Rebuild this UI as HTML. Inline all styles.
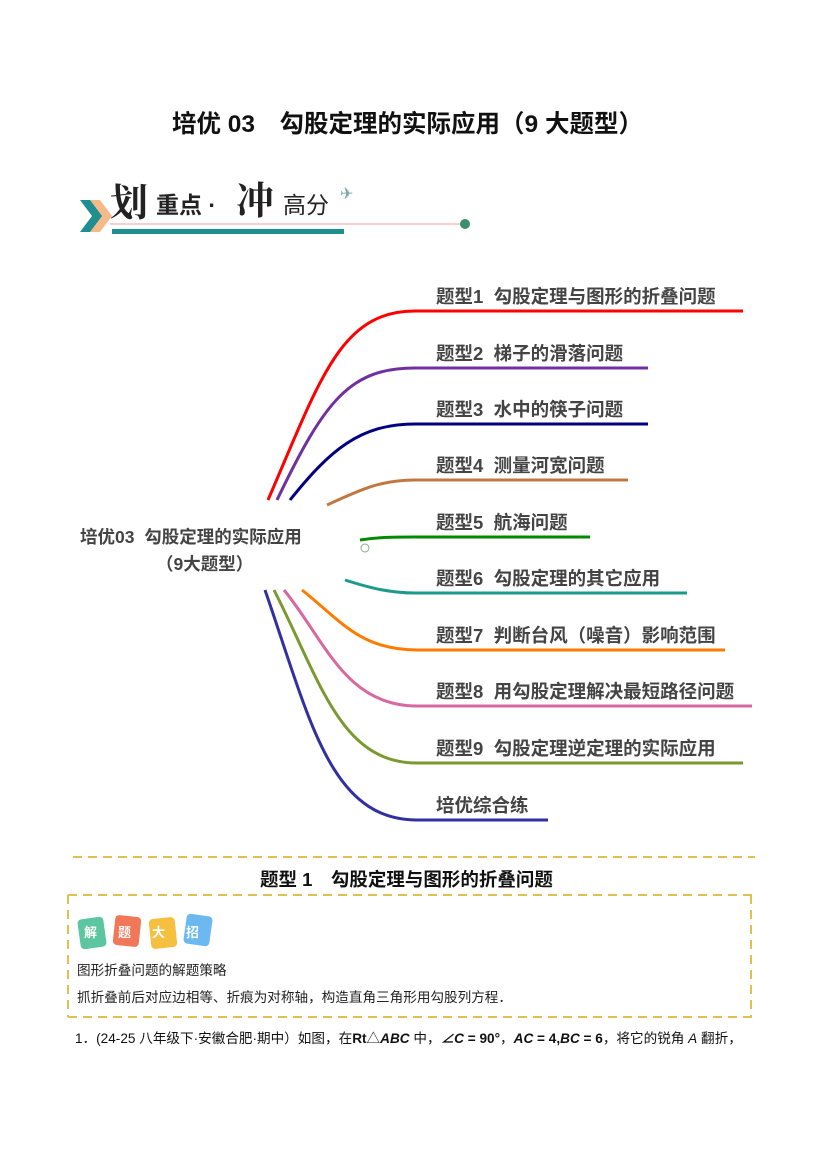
<!DOCTYPE html>
<html><head><meta charset="utf-8"><style>
body{margin:0;background:#fff;}
#p{position:relative;width:827px;height:1169px;overflow:hidden;font-family:"Liberation Sans","Noto Sans CJK SC",sans-serif;color:#222;}
.a{position:absolute;white-space:nowrap;}
.b{font-size:18.5px;font-weight:bold;color:#444;}
</style></head><body><div id="p">
<div class="a" style="left:172px;top:105px;font-size:24.5px;font-weight:bold;color:#111;">培优 03　勾股定理的实际应用（9 大题型）</div>

<svg class="a" style="left:0;top:0" width="827" height="1169">
<polygon points="80,200 92,200 104,216 92,232 80,232 92,216" fill="#1e8f90"/>
<polygon points="90,200 100,200 112,216 100,232 90,232 102,216" fill="#f5b98a"/>
<line x1="110" y1="224" x2="465" y2="224" stroke="#e8a0a0" stroke-width="1"/>
<rect x="112" y="229" width="232" height="5" fill="#1e8f90"/>
<circle cx="465" cy="224" r="5" fill="#3b8f6b"/>
<g fill="none" stroke-width="3">
<path d="M268,500 C320,380 340,311 415,311 L743,311" stroke="#ff0000"/>
<path d="M277,500 C325,400 350,368 415,368 L648,368" stroke="#7030a0"/>
<path d="M290,500 C330,450 360,424 415,424 L648,424" stroke="#000080"/>
<path d="M327,505 C360,490 380,480 415,480 L628,480" stroke="#c07840"/>
<path d="M360,540 C380,537 395,537 415,537 L590,537" stroke="#008a00"/>
<path d="M345,580 C370,588 390,593 415,593 L687,593" stroke="#1a9a8a"/>
<path d="M302,590 C340,620 360,650 417,650 L725,650" stroke="#ff7a00"/>
<path d="M284,590 C325,640 345,706 417,706 L752,706" stroke="#d868a0"/>
<path d="M274,590 C320,680 340,763 417,763 L743,763" stroke="#7a9a30"/>
<path d="M265,590 C310,720 330,820 417,820 L548,820" stroke="#3030a0"/>
</g>
<circle cx="365" cy="548" r="4" fill="#fff" stroke="#8a8" stroke-width="1"/>
<line x1="73" y1="857" x2="755" y2="857" stroke="#e0c050" stroke-width="2" stroke-dasharray="9,6"/>
<line x1="68" y1="895" x2="752" y2="895" stroke="#e0c050" stroke-width="2" stroke-dasharray="9,6"/>
<line x1="68" y1="1017" x2="752" y2="1017" stroke="#e0c050" stroke-width="2" stroke-dasharray="9,6"/>
<line x1="68" y1="895" x2="68" y2="1017" stroke="#e0c050" stroke-width="2" stroke-dasharray="9,6"/>
<line x1="751" y1="895" x2="751" y2="1017" stroke="#e0c050" stroke-width="2" stroke-dasharray="9,6"/>
<rect x="79" y="918" width="26" height="30" rx="4" fill="#5cc6a0" transform="rotate(-8 92 933)"/>
<rect x="114" y="916" width="26" height="30" rx="4" fill="#f07858" transform="rotate(6 127 931)"/>
<rect x="150" y="918" width="26" height="30" rx="4" fill="#f5c040" transform="rotate(-6 163 933)"/>
<rect x="185" y="915" width="26" height="30" rx="4" fill="#6cb8f0" transform="rotate(8 198 930)"/>
</svg>

<div class="a" style="left:110px;top:172px;font-size:38px;font-weight:bold;font-family:'Noto Serif CJK SC',serif;">划</div>
<div class="a" style="left:156px;top:186px;font-size:23px;font-weight:bold;">重点 ·</div>
<div class="a" style="left:236px;top:170px;font-size:38px;font-weight:bold;font-family:'Noto Serif CJK SC',serif;">冲</div>
<div class="a" style="left:283px;top:186px;font-size:23px;">高分</div>
<div class="a" style="left:340px;top:184px;font-size:16px;color:#7aa;">✈</div>

<div class="a b" style="left:80px;top:524px;font-size:17.5px;">培优03&nbsp; 勾股定理的实际应用</div>
<div class="a b" style="left:156px;top:551px;font-size:17.5px;">（9大题型）</div>

<div class="a b" style="left:436px;top:283px;">题型1&nbsp; 勾股定理与图形的折叠问题</div>
<div class="a b" style="left:436px;top:340px;">题型2&nbsp; 梯子的滑落问题</div>
<div class="a b" style="left:436px;top:396px;">题型3&nbsp; 水中的筷子问题</div>
<div class="a b" style="left:436px;top:452px;">题型4&nbsp; 测量河宽问题</div>
<div class="a b" style="left:436px;top:509px;">题型5&nbsp; 航海问题</div>
<div class="a b" style="left:436px;top:565px;">题型6&nbsp; 勾股定理的其它应用</div>
<div class="a b" style="left:436px;top:622px;">题型7&nbsp; 判断台风（噪音）影响范围</div>
<div class="a b" style="left:436px;top:678px;">题型8&nbsp; 用勾股定理解决最短路径问题</div>
<div class="a b" style="left:436px;top:735px;">题型9&nbsp; 勾股定理逆定理的实际应用</div>
<div class="a b" style="left:436px;top:792px;">培优综合练</div>

<div class="a" style="left:260px;top:866px;font-size:18.5px;font-weight:bold;color:#111;">题型 1　勾股定理与图形的折叠问题</div>
<div class="a" style="left:84px;top:922px;font-size:13px;font-weight:bold;color:#fff;letter-spacing:21px;">解题大招</div>
<div class="a" style="left:77px;top:959px;font-size:13.6px;color:#222;">图形折叠问题的解题策略</div>
<div class="a" style="left:77px;top:986px;font-size:13.6px;color:#222;">抓折叠前后对应边相等、折痕为对称轴，构造直角三角形用勾股列方程．</div>
<div class="a" style="left:75px;top:1027px;font-size:13.6px;color:#111;">1．(24-25 八年级下·安徽合肥·期中）如图，在<b>Rt</b>△<b><i>ABC</i></b> 中，<b><i>∠C</i> = 90°</b>，<b><i>AC</i> = 4,<i>BC</i> = 6</b>，将它的锐角 <i>A</i> 翻折，</div>
</div></body></html>
